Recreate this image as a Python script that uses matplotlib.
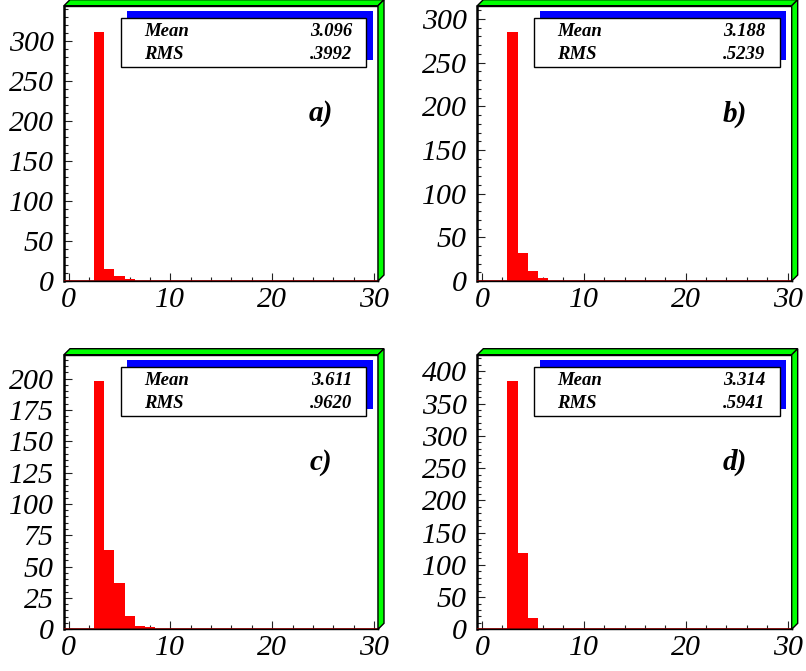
import matplotlib
matplotlib.use("Agg")
import matplotlib.pyplot as plt
import matplotlib.patches as patches
from matplotlib.ticker import MultipleLocator

# bin centres (unit-wide bins) and counts
bin_centers = [3, 4, 5, 6, 7, 8]
counts_a = [311, 15, 6, 2, 0, 0]
counts_b = [285, 32, 11, 3, 0, 0]
counts_c = [198, 63, 37, 11, 3, 2]
counts_d = [385, 118, 17, 1, 1, 1]

panel_labels = ["a)", "b)", "c)", "d)"]
mean_texts = ["3.096", "3.188", "3.611", "3.314"]
rms_texts = [".3992", ".5239", ".9620", ".5941"]
y_major = [50, 50, 25, 50]
x_tick_values = [0, 10, 20, 30]

W, H = 806, 671
fig = plt.figure(figsize=(W / 100, H / 100), dpi=100)

# axes frames in pixels: left, top, right, bottom
frames = [
    (64, 5.7, 378, 281),
    (477.3, 5.7, 791.7, 281),
    (64, 354.7, 378, 629.3),
    (477.3, 354.7, 791.7, 629.3),
]

serif = "Liberation Serif"
d = 6  # depth of the 3D frame, px

all_counts = [counts_a, counts_b, counts_c, counts_d]

for i, counts in enumerate(all_counts):
    l, t, r, b = frames[i]
    ax = fig.add_axes([l / W, 1 - b / H, (r - l) / W, (b - t) / H])

    ax.bar(bin_centers, counts, width=1.0, color="#ff0000",
           edgecolor="none", zorder=2)
    ax.axhline(0, color="#7a0000", linewidth=2, zorder=3)

    ax.set_xlim(-0.45, 30.4)
    ax.set_ylim(0, max(counts) * 1.106)

    ax.xaxis.set_major_locator(MultipleLocator(10))
    ax.xaxis.set_minor_locator(MultipleLocator(2))
    ax.yaxis.set_major_locator(MultipleLocator(y_major[i]))
    ax.yaxis.set_minor_locator(MultipleLocator(y_major[i] / 5))
    ax.set_xticks(x_tick_values)
    ax.tick_params(which="both", direction="in", top=False, right=False,
                   width=0.8, color="#222222")
    ax.tick_params(which="major", length=5.8)
    ax.tick_params(which="minor", length=3.2)
    ax.tick_params(axis="y", pad=7.5)
    ax.tick_params(axis="x", pad=4)

    for lab in ax.get_xticklabels() + ax.get_yticklabels():
        lab.set_fontfamily(serif)
        lab.set_fontstyle("italic")
        lab.set_fontsize(21.5)

    ax.spines["left"].set_linewidth(1.8)
    for s in ["top", "right", "bottom"]:
        ax.spines[s].set_linewidth(1.0)

    # 3D green frame, in figure pixels
    top_band = [(l, H - t), (l + d, H - t + d), (r + d, H - t + d), (r, H - t)]
    right_band = [(r, H - t), (r + d, H - t + d), (r + d, H - b + d), (r, H - b)]
    for pts in (top_band, right_band):
        fpts = [(x / W, y / H) for x, y in pts]
        fig.add_artist(patches.Polygon(fpts, closed=True, facecolor="#00ff00",
                                       edgecolor="black", linewidth=1.0,
                                       transform=fig.transFigure))

    # stats box with blue shadow
    bx, by, bw, bh = 0.18, 0.778, 0.783, 0.178
    ax.add_patch(patches.Rectangle((bx + 0.020, by + 0.023), bw, bh,
                                   transform=ax.transAxes, facecolor="#0000ff",
                                   edgecolor="none", clip_on=False, zorder=5))
    ax.add_patch(patches.Rectangle((bx, by), bw, bh, transform=ax.transAxes,
                                   facecolor="white", edgecolor="black",
                                   linewidth=1.0, clip_on=False, zorder=6))
    txt = dict(transform=ax.transAxes, fontfamily=serif, fontstyle="italic",
               fontweight="bold", fontsize=13.5, va="center", zorder=7)
    ax.text(0.255, 0.906, "Mean", ha="left", **txt)
    ax.text(0.917, 0.906, mean_texts[i], ha="right", **txt)
    ax.text(0.255, 0.821, "RMS", ha="left", **txt)
    ax.text(0.917, 0.821, rms_texts[i], ha="right", **txt)

    ax.text(0.818, 0.607, panel_labels[i], transform=ax.transAxes,
            fontfamily=serif, fontstyle="italic", fontweight="bold",
            fontsize=21, ha="center", va="center")

fig.savefig("out.png", dpi=100)
